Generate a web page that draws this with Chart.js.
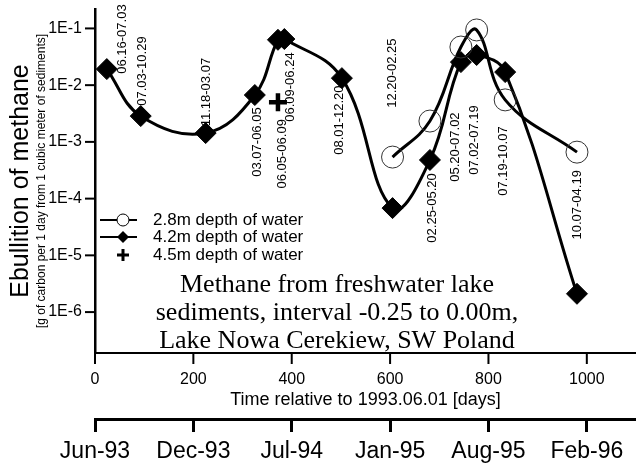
<!DOCTYPE html>
<html lang="en">
<head>
    <meta charset="UTF-8">
    <title>Ebullition of methane - Lake Nowa Cerekiew</title>
    <script src="https://cdn.jsdelivr.net/npm/chart.js@4.4.1/dist/chart.umd.min.js"></script>
    <style>
        html, body { margin: 0; padding: 0; background: #fff; }
        canvas { display: block; }
    </style>
</head>
<body>
    <canvas id="chart" width="636" height="470"></canvas>

    <script>
        // Series names (legend)
        const seriesNames = ['2.8m depth of water', '4.2m depth of water', '4.5m depth of water'];

        // 2.8m depth: days since 1993.06.01, ebullition [g C / day / m3]
        const shallowDays = [605, 681, 744, 776, 834, 980];
        const shallowValues = [5.4e-4, 2.33e-3, 0.047, 0.094, 0.0055, 6.6e-4];

        // 4.2m depth
        const midDays = [24, 93, 225, 325, 372, 385, 502, 605, 681, 744, 776, 834, 980];
        const midValues = [0.0192, 0.00285, 0.00143, 0.0067, 0.063, 0.065, 0.0133, 6.8e-5, 4.8e-4, 0.0255, 0.034, 0.017, 2.1e-6];
        const midPeriods = ['06.16-07.03', '07.03-10.29', '11.18-03.07', '03.07-06.05', '06.05-06.09', '06.09-06.24',
            '08.01-12.20', '12.20-02.25', '02.25-05.20', '05.20-07.02', '07.02-07.19', '07.19-10.07', '10.07-04.19'];

        // 4.5m depth
        const deepDays = [372];
        const deepValues = [0.005];

        // Axis ticks
        const dayTicks = [0, 200, 400, 600, 800, 1000];
        const dateLabels = ['Jun-93', 'Dec-93', 'Jul-94', 'Jan-95', 'Aug-95', 'Feb-96'];
        const yMajorTicks = [1e-6, 1e-5, 1e-4, 1e-3, 1e-2, 1e-1];
        const yTickLabels = ['1E-6', '1E-5', '1E-4', '1E-3', '1E-2', '1E-1'];

        const noteLines = ['Methane from freshwater lake', 'sediments, interval -0.25 to 0.00m,', 'Lake Nowa Cerekiew, SW Poland'];

        // pixel offsets of the period labels from their diamond
        const periodOffsets = [[16, -30], [2, -45], [1, -41], [3, 47], [4, 114], [6, 48], [-2, 42],
            [0, -135], [2, 48], [-5, 85], [-2, 85], [-2, 89], [0, -89]];

        const SANS = '"Liberation Sans", Arial, sans-serif';
        Chart.defaults.font.family = SANS;
        Chart.defaults.color = '#000';

        function isDecade(v) {
            const l = Math.log10(v);
            return Math.abs(l - Math.round(l)) < 1e-6;
        }

        // fixed axis box sizes, no extra label padding pushed into the layout
        function fixSize(prop, size) {
            return s => {
                s[prop] = size;
                s.paddingLeft = s.paddingRight = s.paddingTop = s.paddingBottom = 0;
            };
        }

        // Draw axis tick marks (major longer than minor)
        const tickMarks = {
            id: 'tickMarks',
            afterDraw(chart) {
                const { ctx, scales: { x, y } } = chart;
                ctx.save();
                ctx.strokeStyle = '#000';
                x.ticks.forEach(t => {
                    const px = x.getPixelForValue(t.value);
                    const major = t.value % 200 === 0;
                    ctx.lineWidth = major ? 2 : 1.5;
                    ctx.beginPath();
                    ctx.moveTo(px, x.top);
                    ctx.lineTo(px, x.top + (major ? 11 : 5));
                    ctx.stroke();
                });
                y.ticks.forEach(t => {
                    const py = y.getPixelForValue(t.value);
                    const major = isDecade(t.value);
                    ctx.lineWidth = major ? 2 : 1.5;
                    ctx.beginPath();
                    ctx.moveTo(y.right - (major ? 10 : 7), py);
                    ctx.lineTo(y.right, py);
                    ctx.stroke();
                });
                ctx.restore();
            }
        };

        // Rotated period labels next to the 4.2m points
        const periodLabels = {
            id: 'periodLabels',
            afterDatasetsDraw(chart) {
                const { ctx } = chart;
                const meta = chart.getDatasetMeta(1);
                ctx.save();
                ctx.font = '13px ' + SANS;
                ctx.fillStyle = '#000';
                ctx.textAlign = 'center';
                ctx.textBaseline = 'middle';
                meta.data.forEach((pt, i) => {
                    const off = periodOffsets[i];
                    ctx.save();
                    ctx.translate(pt.x + off[0], pt.y + off[1]);
                    ctx.rotate(-Math.PI / 2);
                    ctx.fillText(midPeriods[i], 0, 0);
                    ctx.restore();
                });
                ctx.restore();
            }
        };

        // Legend inside the plot
        const innerLegend = {
            id: 'innerLegend',
            afterDraw(chart) {
                const { ctx, chartArea } = chart;
                const x0 = chartArea.left;
                const rows = [chartArea.top + 211, chartArea.top + 228, chartArea.top + 246];
                const mx = x0 + 28;
                ctx.save();
                ctx.strokeStyle = '#000';
                ctx.fillStyle = '#000';
                // lines
                ctx.lineWidth = 2;
                [rows[0], rows[1]].forEach(ry => {
                    ctx.beginPath();
                    ctx.moveTo(x0 + 5, ry);
                    ctx.lineTo(x0 + 42, ry);
                    ctx.stroke();
                });
                // circle
                ctx.lineWidth = 1;
                ctx.fillStyle = '#fff';
                ctx.beginPath();
                ctx.arc(mx, rows[0], 6, 0, Math.PI * 2);
                ctx.fill();
                ctx.stroke();
                // diamond
                ctx.fillStyle = '#000';
                ctx.beginPath();
                ctx.moveTo(mx - 6, rows[1]);
                ctx.lineTo(mx, rows[1] - 6);
                ctx.lineTo(mx + 6, rows[1]);
                ctx.lineTo(mx, rows[1] + 6);
                ctx.closePath();
                ctx.fill();
                // plus
                ctx.lineWidth = 3;
                ctx.beginPath();
                ctx.moveTo(mx - 6, rows[2]);
                ctx.lineTo(mx + 6, rows[2]);
                ctx.moveTo(mx, rows[2] - 6);
                ctx.lineTo(mx, rows[2] + 6);
                ctx.stroke();
                // text
                ctx.font = '17px ' + SANS;
                ctx.textAlign = 'left';
                ctx.textBaseline = 'middle';
                chart.data.datasets.forEach((ds, i) => ctx.fillText(ds.label, x0 + 58, rows[i]));
                ctx.restore();
            }
        };

        // Caption block
        const noteText = {
            id: 'noteText',
            afterDraw(chart) {
                const { ctx, chartArea } = chart;
                ctx.save();
                ctx.font = '26px "Liberation Serif", "Times New Roman", serif';
                ctx.fillStyle = '#000';
                ctx.textAlign = 'center';
                ctx.textBaseline = 'alphabetic';
                noteLines.forEach((t, i) => ctx.fillText(t, chartArea.left + 242, chartArea.top + 283 + i * 28));
                ctx.restore();
            }
        };

        const toPoints = (xs, ys) => xs.map((d, i) => ({ x: d, y: ys[i] }));

        new Chart(document.getElementById('chart'), {
            type: 'line',
            data: {
                datasets: [
                    {
                        label: seriesNames[0],
                        data: toPoints(shallowDays, shallowValues),
                        borderColor: '#000',
                        borderWidth: 3,
                        tension: 0.4,
                        pointStyle: 'circle',
                        pointRadius: 11,
                        pointBorderWidth: 1,
                        pointBorderColor: '#333',
                        pointBackgroundColor: 'rgba(0,0,0,0)'
                    },
                    {
                        label: seriesNames[1],
                        data: toPoints(midDays, midValues),
                        borderColor: '#000',
                        borderWidth: 3,
                        tension: 0.4,
                        pointStyle: 'rectRot',
                        pointRadius: 10.5,
                        pointBorderWidth: 1,
                        pointBorderColor: '#000',
                        pointBackgroundColor: '#000'
                    },
                    {
                        label: seriesNames[2],
                        data: toPoints(deepDays, deepValues),
                        showLine: false,
                        pointStyle: 'cross',
                        pointRadius: 9,
                        pointBorderWidth: 4.5,
                        pointBorderColor: '#000'
                    }
                ]
            },
            options: {
                responsive: false,
                animation: false,
                layout: { autoPadding: false, padding: { top: 9, right: 0, bottom: 0, left: 0 } },
                plugins: {
                    legend: { display: false },
                    tooltip: { enabled: false }
                },
                scales: {
                    x: {
                        type: 'linear',
                        position: 'bottom',
                        min: 0,
                        max: 1100,
                        afterBuildTicks: s => {
                            const t = [];
                            for (let v = 0; v <= 1100; v += 100) t.push({ value: v });
                            s.ticks = t;
                        },
                        afterFit: fixSize('height', 66),
                        // tick marks are drawn by the plugin; tickLength only sets label offset
                        grid: { display: false, drawTicks: true, tickLength: 17 },
                        border: { color: '#000', width: 2 },
                        ticks: {
                            autoSkip: false,
                            maxRotation: 0,
                            padding: 0,
                            font: { size: 16 },
                            callback: v => dayTicks.includes(v) ? String(v) : null
                        },
                        title: {
                            display: true,
                            text: 'Time relative to 1993.06.01 [days]',
                            font: { size: 18 },
                            padding: { top: 0, bottom: 8 }
                        }
                    },
                    x2: {
                        type: 'linear',
                        position: 'bottom',
                        weight: 1,
                        min: 0,
                        max: 1100,
                        afterBuildTicks: s => { s.ticks = dayTicks.map(v => ({ value: v })); },
                        afterFit: fixSize('height', 51),
                        grid: {
                            display: true,
                            drawOnChartArea: false,
                            drawTicks: true,
                            tickLength: 13,
                            tickWidth: 3,
                            tickColor: '#000'
                        },
                        border: { color: '#000', width: 3 },
                        ticks: {
                            autoSkip: false,
                            maxRotation: 0,
                            padding: 6,
                            font: { size: 23 },
                            callback: v => dateLabels[dayTicks.indexOf(v)]
                        }
                    },
                    y: {
                        type: 'logarithmic',
                        position: 'left',
                        min: 1.9e-7,
                        max: 0.22,
                        afterBuildTicks: s => {
                            const t = [];
                            for (let e = -7; e <= -1; e++) {
                                for (let k = 1; k <= 9; k++) {
                                    const v = Number((k * Math.pow(10, e)).toPrecision(6));
                                    if (v >= s.min && v <= s.max) t.push({ value: v });
                                }
                            }
                            s.ticks = t;
                        },
                        afterFit: fixSize('width', 64),
                        grid: { display: false, drawTicks: true, tickLength: 13 },
                        border: { color: '#000', width: 2.5 },
                        ticks: {
                            autoSkip: false,
                            padding: 0,
                            font: { size: 16 },
                            callback: v => {
                                const i = yMajorTicks.findIndex(m => Math.abs(Math.log10(m) - Math.log10(v)) < 1e-6);
                                return i >= 0 ? yTickLabels[i] : null;
                            }
                        },
                        title: {
                            display: true,
                            text: '[g of carbon per 1 day from 1 cubic meter of sediments]',
                            font: { size: 12 },
                            padding: { top: 3, bottom: 0 }
                        }
                    },
                    yT: {
                        type: 'linear',
                        position: 'left',
                        weight: 1,
                        afterFit: fixSize('width', 31),
                        grid: { display: false },
                        border: { display: false },
                        ticks: { display: false },
                        title: {
                            display: true,
                            text: 'Ebullition of methane',
                            font: { size: 25, lineHeight: 1 },
                            padding: { top: 8.5, bottom: 0 }
                        }
                    }
                }
            },
            plugins: [tickMarks, periodLabels, innerLegend, noteText]
        });
    </script>
</body>
</html>
